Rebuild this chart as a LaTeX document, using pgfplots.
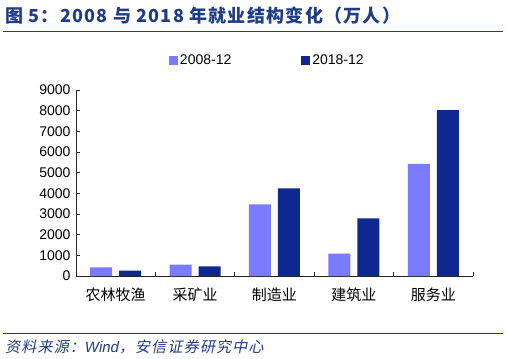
\documentclass[border=0pt]{standalone}
\usepackage{pgfplots}
\pgfplotsset{compat=1.18}
\usepackage{fontspec}
\setmainfont{Liberation Sans}
\newfontfamily\cjk{Noto Sans CJK SC}
\newfontfamily\cjktitle{Noto Sans CJK SC}[LetterSpace=7]
\newfontfamily\cjkit{Noto Sans CJK SC}[FakeSlant=0.2, LetterSpace=8]
\newfontfamily\latit{Liberation Sans Italic}
\definecolor{lightbar}{HTML}{7B7BFF}
\definecolor{darkbar}{HTML}{0F2890}
\definecolor{navy}{HTML}{1F3C88}
\begin{document}
\begin{tikzpicture}
\path[use as bounding box] (0pt,0pt) rectangle (507pt,-359pt);
\node[anchor=west, text=navy, inner sep=0pt] at (5pt,-16pt) {\cjktitle\bfseries\fontsize{18}{20}\selectfont 图 5：2008 与 2018 年就业结构变化（万人）};
\draw[navy, line width=1pt] (3pt,-31pt) -- (503pt,-31pt);
\draw[navy, line width=1pt] (3pt,-333pt) -- (503pt,-333pt);
\node[anchor=west, text=navy, inner sep=0pt] at (5pt,-347pt) {\fontsize{15}{17}\selectfont\cjkit 资料来源：{\latit Wind}，安信证券研究中心};
\begin{axis}[
  at={(76pt,-276pt)}, anchor=south west,
  scale only axis, width=397pt, height=186pt,
  xmin=-0.5, xmax=4.5, ymin=0, ymax=9000,
  ybar, bar width=22pt,
  axis x line=bottom, axis y line=left,
  axis line style={-, black!85, line width=0.8pt},
  tick align=inside, major tick length=4pt, minor tick length=4pt,
  tick style={black!85, line width=0.8pt},
  ytick={0,1000,...,9000},
  xtick={0,1,2,3,4},
  xticklabels={农林牧渔,采矿业,制造业,建筑业,服务业},
  minor xtick={0.5,1.5,2.5,3.5,4.5},
  every major x tick/.append style={draw=none},
  x tick label style={font=\cjk\fontsize{15}{17}\selectfont, yshift=-8pt},
  y tick label style={font=\fontsize{14}{16}\selectfont, xshift=-2pt},
  /pgf/number format/1000 sep={},
  /pgf/number format/assume math mode=true,
  legend style={at={(0.482,1.161)}, anchor=center, draw=none, fill=none,
    font=\fontsize{14}{16}\selectfont,
    /tikz/every even column/.append style={column sep=68pt}},
  legend columns=2,
  legend image code/.code={\fill[#1] (0pt,-4.5pt) rectangle (9pt,4.5pt);},
]
\addplot[fill=lightbar, draw=none, bar shift=-14.5pt] coordinates {(0,420) (1,550) (2,3470) (3,1080) (4,5420)};
\addplot[fill=darkbar, draw=none, bar shift=14.5pt] coordinates {(0,260) (1,470) (2,4240) (3,2790) (4,8030)};
\legend{2008-12,2018-12}
\end{axis}
\end{tikzpicture}
\end{document}
